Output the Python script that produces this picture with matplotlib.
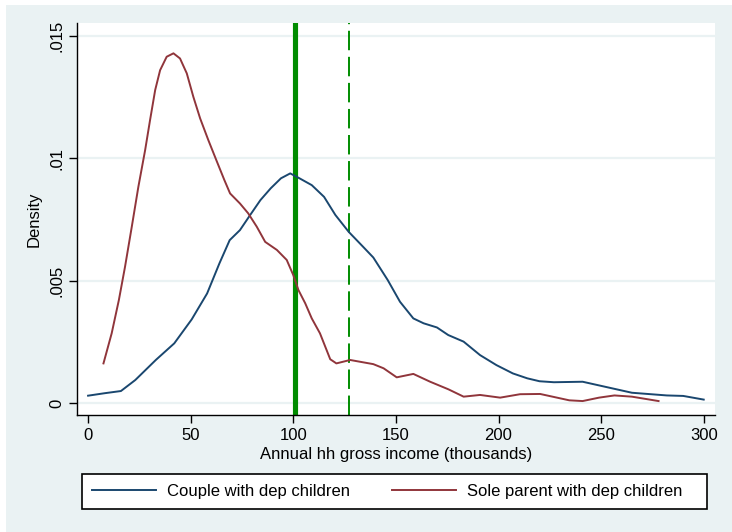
import matplotlib
matplotlib.use("Agg")
import matplotlib.pyplot as plt
from matplotlib.patches import Rectangle

plt.rcParams['font.family'] = ['Liberation Sans', 'DejaVu Sans']

# kernel density estimates (income in thousands, density)
couple_x = [0, 8, 16, 23, 33, 42, 50.5, 58, 64, 69, 74, 79, 84, 89, 94, 98.5,
            103, 109, 115, 120.5, 127, 134, 139, 146, 152, 158.5, 163.5, 170,
            175.5, 183, 191, 199, 207, 214, 220, 227, 241, 249, 265, 282, 290,
            300]
couple_y = [0.00030, 0.00040, 0.00049, 0.00094, 0.00176, 0.00244, 0.00342,
            0.00448, 0.00571, 0.00666, 0.00707, 0.00769, 0.00830, 0.00878,
            0.00919, 0.00939, 0.00919, 0.00891, 0.00843, 0.00769, 0.00700,
            0.00639, 0.00595, 0.00503, 0.00414, 0.00346, 0.00326, 0.00309,
            0.00278, 0.00251, 0.00196, 0.00155, 0.00121, 0.00101, 0.00089,
            0.00085, 0.00087, 0.00072, 0.00042, 0.00031, 0.00029, 0.00014]

sole_x = [7.5, 11.5, 15, 18, 21.3, 24.5, 27.8, 30.2, 32.7, 35.1, 38.3, 41.6,
          44.8, 48.1, 51.3, 54.6, 58.6, 62.5, 66.4, 69.2, 74, 78, 82.2, 86.3,
          92, 96.8, 100, 102.5, 105.8, 109, 113, 118, 121, 127.7, 133, 139,
          144, 150.4, 158.5, 166.7, 175.6, 183, 191, 200.8, 210.5, 220.3,
          234.5, 241, 249, 256.5, 265, 278]
sole_y = [0.00162, 0.00285, 0.00421, 0.00557, 0.00721, 0.00884, 0.01034,
          0.01157, 0.01280, 0.01361, 0.01416, 0.01430, 0.01409, 0.01348,
          0.01252, 0.01164, 0.01075, 0.00993, 0.00912, 0.00857, 0.00816,
          0.00776, 0.00721, 0.00659, 0.00626, 0.00585, 0.00523, 0.00462,
          0.00408, 0.00346, 0.00285, 0.00179, 0.00162, 0.00176, 0.00168,
          0.00159, 0.00142, 0.00105, 0.00119, 0.00087, 0.00056, 0.00026,
          0.00033, 0.00022, 0.00036, 0.00037, 0.00011, 0.00008, 0.00022,
          0.00031, 0.00026, 0.00008]

median_income = 101
mean_income = 127

bg = '#EAF2F3'
navy = '#1A476F'
maroon = '#90353B'
green = '#008C00'

fig = plt.figure(figsize=(7.32, 5.32), dpi=100, facecolor='white')
fig.patches.append(Rectangle((6 / 732, 0), 1, 527 / 532, transform=fig.transFigure,
                             facecolor=bg, edgecolor='none', zorder=-10))
# legend box
fig.patches.append(Rectangle((82 / 732, 23 / 532), 625 / 732, 35 / 532,
                             transform=fig.transFigure, facecolor='white',
                             edgecolor='black', lw=1.2, zorder=-5))

ax = fig.add_axes([77 / 732, 117 / 532, 638 / 732, 392 / 532])
ax.set_facecolor('white')

ax.plot(couple_x, couple_y, color=navy, lw=1.4, label='Couple with dep children',
        zorder=3, solid_joinstyle='round')
ax.plot(sole_x, sole_y, color=maroon, lw=1.4, label='Sole parent with dep children',
        zorder=3, solid_joinstyle='round')
ax.axvline(median_income, color=green, lw=3.7, zorder=2)
ax.axvline(mean_income, color=green, lw=1.4, linestyle=(0, (10, 3.4)), zorder=2)

ax.set_xlim(-5.4, 305.5)
ax.set_ylim(-0.00049, 0.01554)
ax.set_xticks([0, 50, 100, 150, 200, 250, 300])
ax.set_yticks([0, 0.005, 0.01, 0.015])
ax.set_yticklabels(['0', '.005', '.01', '.015'], rotation=90, va='center')
ax.grid(axis='y', color=bg, lw=1.6, zorder=1)
ax.set_axisbelow(True)

for side in ['top', 'right']:
    ax.spines[side].set_visible(False)
for side in ['left', 'bottom']:
    ax.spines[side].set_linewidth(1.0)
ax.tick_params(axis='both', length=6, width=1, labelsize=12, pad=3)

ax.set_xlabel('Annual hh gross income (thousands)', fontsize=12, labelpad=3)
ax.set_ylabel('Density', fontsize=12, labelpad=6)

leg = fig.legend(loc='center left', bbox_to_anchor=(92 / 732, 40.5 / 532),
                 ncol=2, fontsize=12, handlelength=3.84, handletextpad=0.66,
                 columnspacing=2.5, borderpad=0, borderaxespad=0, frameon=False)

fig.savefig('out.png', dpi=100, facecolor=fig.get_facecolor())
